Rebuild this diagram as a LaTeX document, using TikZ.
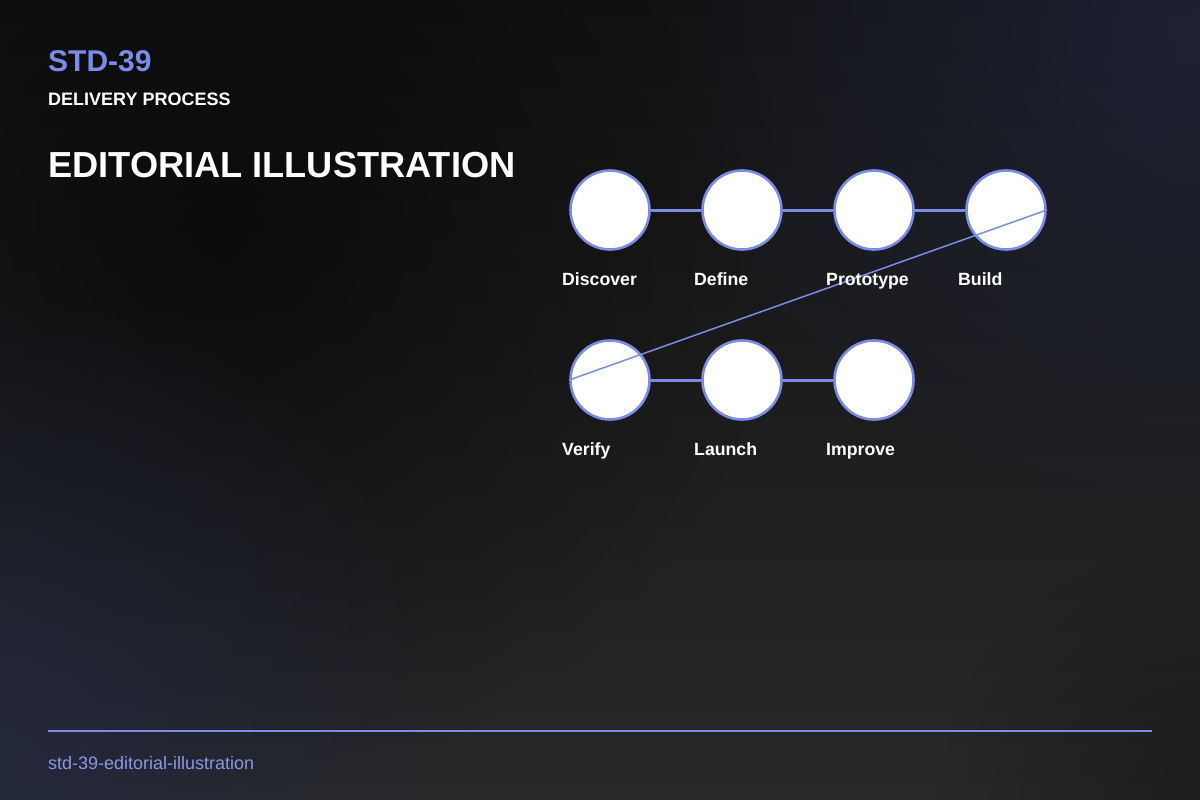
\documentclass[tikz,border=0pt]{standalone}
\usepackage{fontspec}
\setmainfont{Liberation Sans}
\usetikzlibrary{positioning,fadings}
\definecolor{accent}{HTML}{7B8CE8}
\definecolor{footblue}{HTML}{8A98E4}
\definecolor{bgtop}{HTML}{121213}
\definecolor{bgbot}{HTML}{282828}
\definecolor{bgdark}{HTML}{090909}
\definecolor{bgblue}{HTML}{222840}
\tikzfading[name=glowfade, inner color=transparent!0, outer color=transparent!100]
\newcommand{\txt}[2]{\fontsize{#1}{#1}\selectfont\bfseries #2}

\begin{document}
\begin{tikzpicture}[x=1pt,y=-1pt,
    stepnode/.style={circle,draw=accent,fill=white,line width=2.6pt,minimum size=79pt,inner sep=0pt},
    steplabel/.style={anchor=base west,text=white,inner sep=0pt,font=\txt{17.7}{}},
    link/.style={draw=accent,line width=3pt},
    jump/.style={draw=accent,line width=1.5pt},
    glow/.style={path fading=glowfade}]
\useasboundingbox (0,0) rectangle (1200,800);
% background
\shade[top color=bgtop, bottom color=bgbot] (0,0) rectangle (1200,800);
\fill[bgdark,glow,fill opacity=0.8] (220,230) circle (560);
\fill[bgblue,glow,fill opacity=0.8] (0,760) circle (480);
\fill[bgblue,glow,fill opacity=0.7] (1200,20) circle (560);
\fill[black,glow,fill opacity=0.25] (1200,800) circle (260);
% header
\node[anchor=base west,inner sep=0pt,text=accent,font=\txt{30}{}] (code) at (48,72) {STD-39};
\node[anchor=base west,inner sep=0pt,text=white,font=\txt{18}{}] (sub) at (48,105) {DELIVERY PROCESS};
\node[anchor=base west,inner sep=0pt,text=white,font=\txt{36.2}{}] (title) at (48,177) {EDITORIAL ILLUSTRATION};
% steps
\node[stepnode] (s1) at (610,210) {};
\node[stepnode] (s2) at (742,210) {};
\node[stepnode] (s3) at (874,210) {};
\node[stepnode] (s4) at (1006,210) {};
\node[stepnode] (s5) at (610,380) {};
\node[stepnode] (s6) at (742,380) {};
\node[stepnode] (s7) at (874,380) {};
\foreach \a/\b in {s1/s2,s2/s3,s3/s4,s5/s6,s6/s7}
  \draw[link] (\a) -- (\b);
\draw[jump] (s4.east) -- (s5.west);
\foreach \n/\t in {s1/Discover,s2/Define,s3/Prototype,s4/Build,s5/Verify,s6/Launch,s7/Improve}
  \node[steplabel] (\n-label) at ([xshift=-48pt,yshift=-75pt]\n.center) {\t};
% footer
\coordinate (rule-l) at (48,731);
\coordinate (rule-r) at (1152,731);
\draw[accent,line width=2pt] (rule-l) -- (rule-r);
\node[anchor=base west,inner sep=0pt,text=footblue,font=\fontsize{18}{18}\selectfont] (slug) at (48,769) {std-39-editorial-illustration};
\end{tikzpicture}
\end{document}
